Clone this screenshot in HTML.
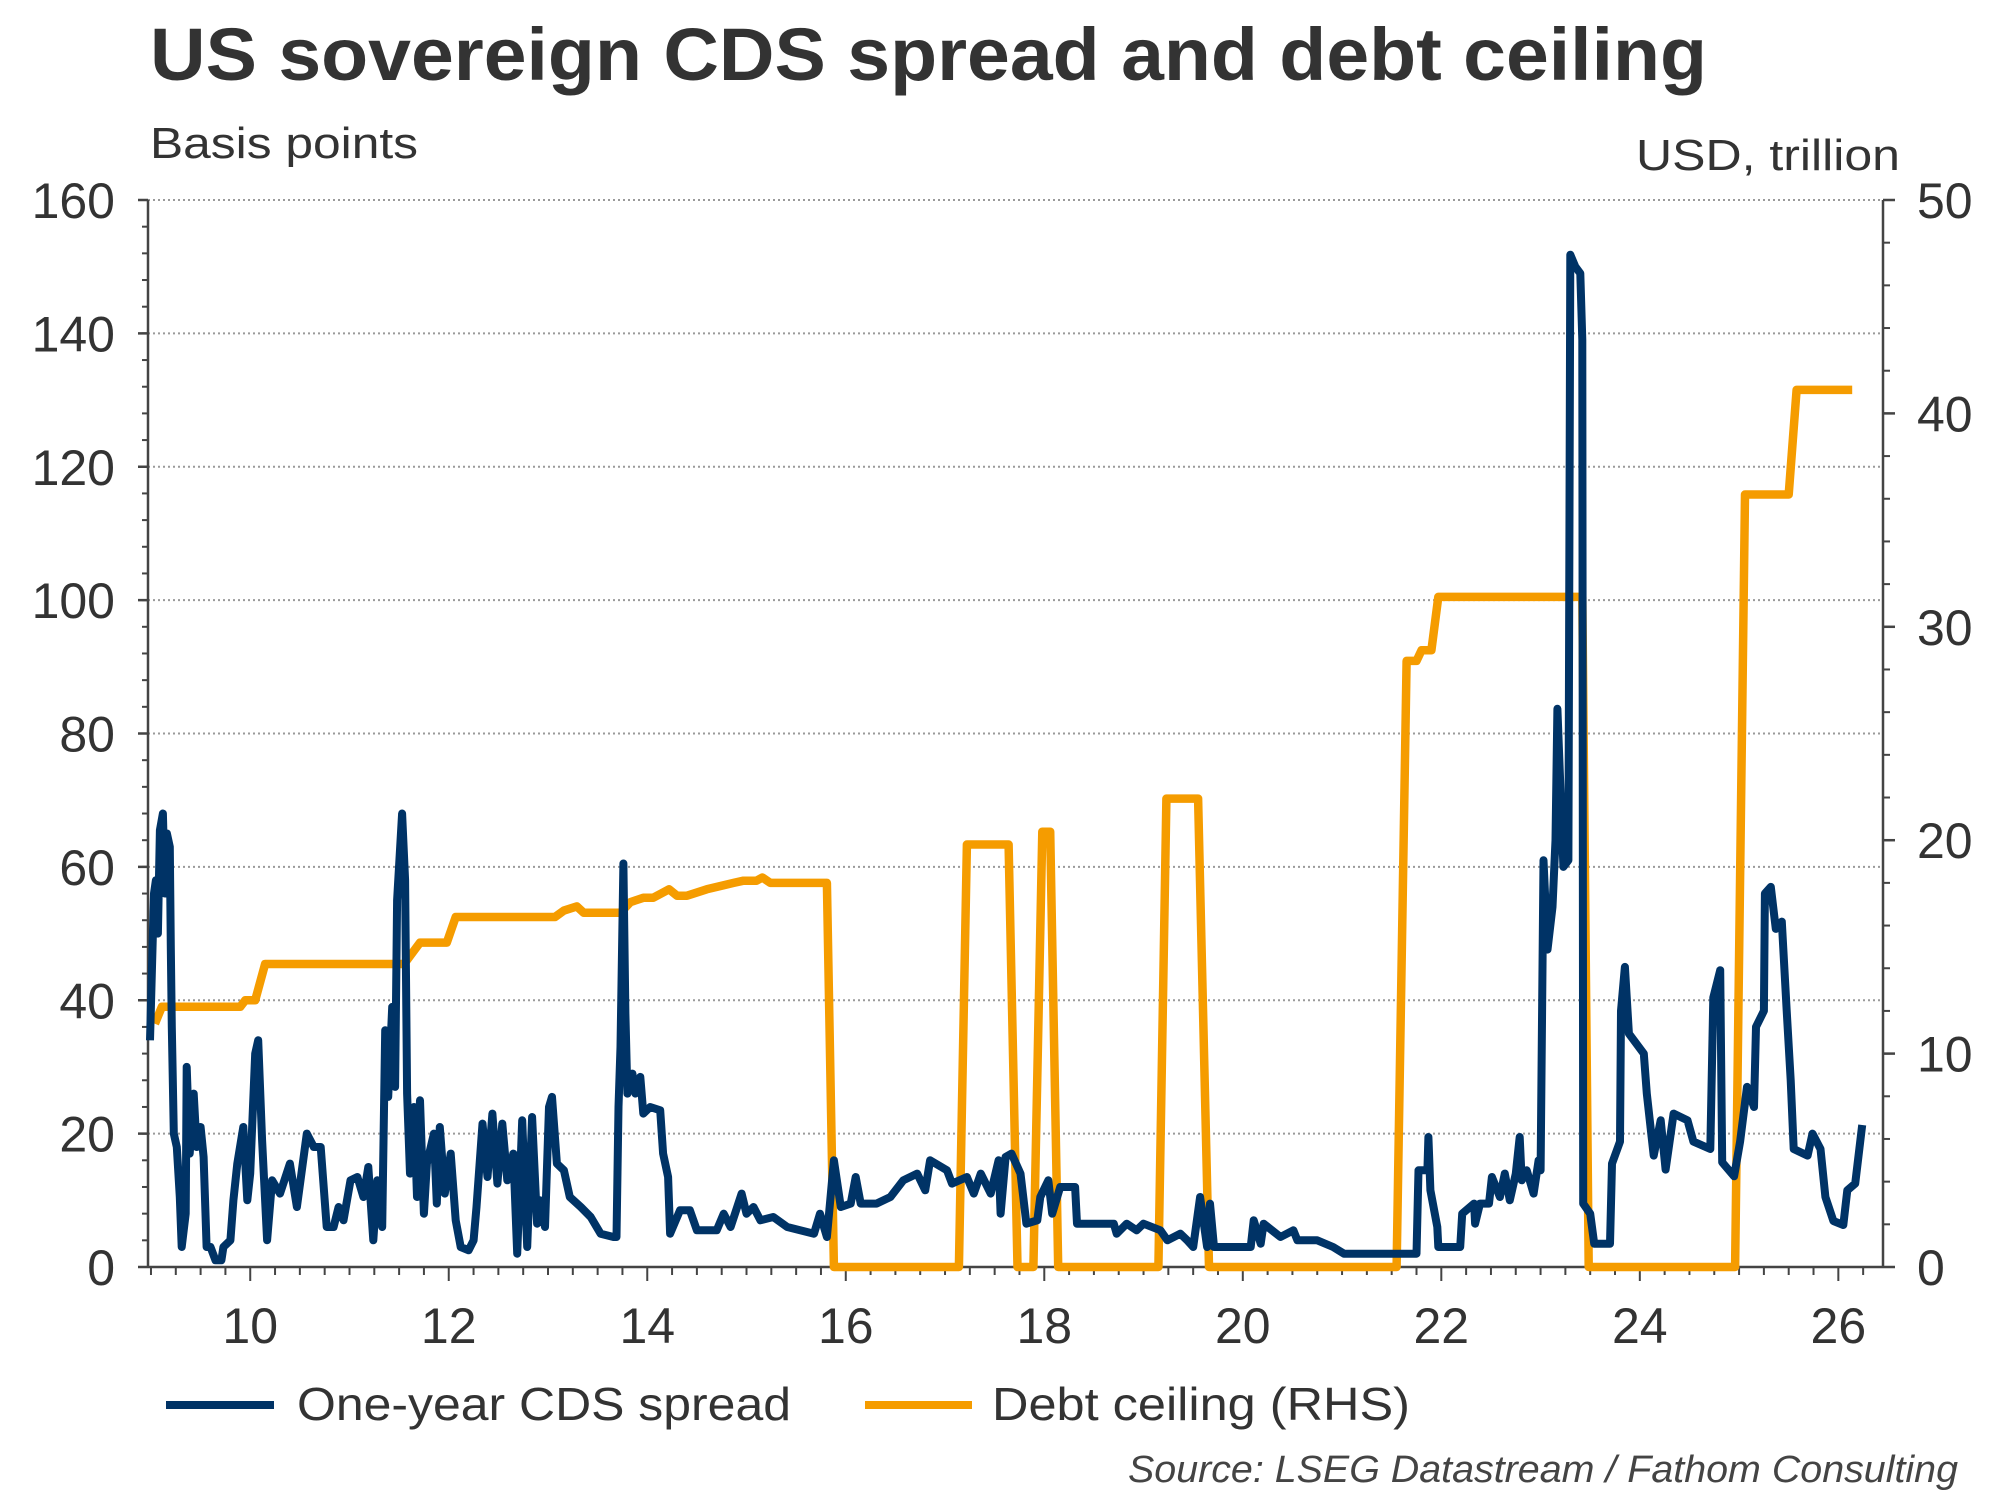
<!DOCTYPE html>
<html><head><meta charset="utf-8"><style>
html,body{margin:0;padding:0;background:#fff;}
svg{display:block;font-family:"Liberation Sans",Arial,sans-serif;}
</style></head><body>
<svg id="chart" width="2000" height="1500" viewBox="0 0 2000 1500" xmlns="http://www.w3.org/2000/svg">
<text x="150" y="80" font-size="74" font-weight="bold" fill="#333" textLength="1557" lengthAdjust="spacingAndGlyphs">US sovereign CDS spread and debt ceiling</text>
<text x="150" y="158" font-size="44" fill="#333" textLength="268" lengthAdjust="spacingAndGlyphs">Basis points</text>
<text x="1900" y="170" font-size="44" fill="#333" text-anchor="end" textLength="264" lengthAdjust="spacingAndGlyphs">USD, trillion</text>
<g id="grid"></g>
<g id="axes"></g>
<g id="series"></g>
<g>
  <g>
    <line x1="166" y1="1405" x2="274" y2="1405" stroke="#003366" stroke-width="8"/>
    <text x="297" y="1420" font-size="46" fill="#333" textLength="494" lengthAdjust="spacingAndGlyphs">One-year CDS spread</text>
  </g>
  <g>
    <line x1="865" y1="1405" x2="972" y2="1405" stroke="#F59C00" stroke-width="8"/>
    <text x="992" y="1420" font-size="46" fill="#333" textLength="418" lengthAdjust="spacingAndGlyphs">Debt ceiling (RHS)</text>
  </g>
</g>
<text x="1958" y="1482" font-size="38" font-style="italic" fill="#444" text-anchor="end" textLength="830" lengthAdjust="spacingAndGlyphs">Source: LSEG Datastream / Fathom Consulting</text>
</svg>
<script>
const cdsYears = [8.99,9.03,9.05,9.07,9.09,9.12,9.14,9.16,9.19,9.2,9.21,9.23,9.26,9.29,9.31,9.35,9.36,9.39,9.43,9.46,9.5,9.53,9.56,9.6,9.65,9.71,9.73,9.8,9.83,9.87,9.93,9.97,10.0,10.05,10.08,10.12,10.17,10.22,10.3,10.4,10.47,10.57,10.64,10.71,10.77,10.84,10.89,10.94,11.01,11.08,11.14,11.19,11.24,11.28,11.33,11.36,11.39,11.43,11.46,11.48,11.53,11.56,11.58,11.61,11.65,11.68,11.71,11.75,11.78,11.85,11.88,11.91,11.96,12.02,12.07,12.12,12.2,12.25,12.28,12.34,12.39,12.44,12.49,12.54,12.59,12.65,12.69,12.74,12.79,12.84,12.89,12.92,12.97,13.01,13.04,13.09,13.16,13.22,13.33,13.43,13.53,13.66,13.69,13.71,13.73,13.76,13.78,13.8,13.85,13.88,13.93,13.96,14.03,14.13,14.16,14.21,14.23,14.33,14.43,14.5,14.7,14.77,14.84,14.95,15.0,15.07,15.14,15.27,15.41,15.54,15.68,15.74,15.81,15.88,15.95,16.05,16.1,16.15,16.31,16.45,16.58,16.72,16.8,16.85,17.02,17.07,17.22,17.29,17.36,17.46,17.54,17.56,17.61,17.67,17.76,17.82,17.93,17.96,18.04,18.08,18.16,18.31,18.33,18.7,18.73,18.83,18.93,19.0,19.17,19.24,19.37,19.44,19.5,19.57,19.64,19.67,19.71,20.08,20.11,20.18,20.21,20.38,20.51,20.55,20.75,20.91,21.02,21.75,21.77,21.86,21.87,21.89,21.96,21.97,22.19,22.21,22.33,22.34,22.39,22.48,22.51,22.59,22.64,22.69,22.75,22.79,22.81,22.86,22.93,22.98,23.0,23.03,23.07,23.12,23.15,23.17,23.23,23.28,23.3,23.35,23.4,23.42,23.43,23.5,23.54,23.7,23.72,23.8,23.81,23.85,23.89,24.04,24.07,24.14,24.21,24.26,24.34,24.48,24.54,24.71,24.74,24.81,24.83,24.95,25.01,25.08,25.15,25.17,25.25,25.26,25.32,25.37,25.43,25.48,25.52,25.55,25.69,25.74,25.82,25.87,25.95,26.05,26.09,26.17,26.24];
const cdsValues = [34,56,58,50,65.5,68,56,65,63,48,36,20,18,10.5,3,8,30,17,26,18,21,16.5,3,3,1,1,3,4,10,15.5,21,10,14,32,34,19,4,13,11,15.5,9,20,18,18,6,6,9,7,13,13.5,10.5,15,4,13,6,35.5,25.5,39,27,55,68,58,26,14,24,10.5,25,8,15.5,20,9.5,21,11,17,7,3,2.5,4,9,21.5,13.5,23,12.5,21.5,13,17,2,22,3,22.5,6.5,10,6,24,25.5,15.5,14.5,10.5,9,7.5,5,4.5,4.5,24,33,60.5,38,26,29,26,28.5,23,24,23.5,17,13.5,5,8.5,8.5,5.5,5.5,8,6,11,8,9,7,7.5,6,5.5,5,8,4.5,16,9,9.5,13.5,9.5,9.5,10.5,13,14,11.5,16,14.5,12.5,13.5,11,14,11,16,8,16.5,17,14,6.5,7,10.5,13,8,12,12,6.5,6.5,5,6.5,5.5,6.5,5.5,4,5,4,3,10.5,3,9.5,3,3,7,3.5,6.5,4.5,5.5,4,4,3,2,2,14.5,14.5,19.5,11.5,6,3,3,8,9.5,6.5,9.5,9.5,13.5,10.5,14,10,14,19.5,13,14.5,11,16,14.5,61,47.6,54,64,83.7,60,61,151.8,150,149,139,9.5,8,3.5,3.5,15.5,18.8,38.4,45,35,32,26,16.7,22,14.6,23,22,18.8,17.7,40.4,44.5,15.7,13.6,18.8,27,24,36,38.4,56,57,50.7,51.8,38.4,28,17.7,16.7,20,17.7,10.5,6.9,6.3,11.5,12.5,21.3];
const debtYears = [9.04,9.11,9.9,9.95,10.05,10.15,11.55,11.71,11.98,12.07,13.07,13.16,13.29,13.36,13.73,13.83,13.96,14.06,14.22,14.3,14.4,14.6,14.87,14.97,15.1,15.16,15.24,15.81,15.88,17.14,17.22,17.64,17.73,17.89,17.98,18.06,18.14,19.15,19.23,19.55,19.66,21.55,21.65,21.75,21.8,21.9,21.97,23.42,23.485,24.96,25.06,25.5,25.58,26.14];
const debtValues = [11.4,12.2,12.2,12.5,12.5,14.2,14.2,15.2,15.2,16.4,16.4,16.7,16.9,16.6,16.6,17.1,17.3,17.3,17.7,17.4,17.4,17.7,18.0,18.1,18.1,18.25,18.0,18.0,0,0,19.8,19.8,0,0,20.4,20.4,0,0,21.95,21.95,0,0,28.4,28.4,28.9,28.9,31.4,31.4,0,0,36.2,36.2,41.1,41.1];
const leftTicks = [0,20,40,60,80,100,120,140,160];
const rightTicks = [0,10,20,30,40,50];
const xTickLabels = [10,12,14,16,18,20,22,24,26];

const NS = "http://www.w3.org/2000/svg";
const X0 = 148, X1 = 1883, Y0 = 1267, Y1 = 200;
const xMin = 8.97, xMax = 26.45;
function xs(v){ return X0 + (v - xMin) / (xMax - xMin) * (X1 - X0); }
function yl(v){ return Y0 - v / 160 * (Y0 - Y1); }
function yr(v){ return Y0 - v / 50 * (Y0 - Y1); }
function mk(tag, attrs, parent){ const e = document.createElementNS(NS, tag); for (const k in attrs) e.setAttribute(k, attrs[k]); parent.appendChild(e); return e; }

const grid = document.getElementById('grid');
const axes = document.getElementById('axes');
const series = document.getElementById('series');

leftTicks.forEach(t => {
  if (t > 0) {
    const g = mk('line', {x1: X0, x2: X1, y1: yl(t), y2: yl(t), stroke: '#9a9a9a', 'stroke-width': 2, 'stroke-dasharray': '2 3'}, grid);
    
    
  }
  const tk = mk('line', {x1: X0 - 10, x2: X0, y1: yl(t), y2: yl(t), stroke: '#444', 'stroke-width': 2.5}, axes);
  
  
  const lb = mk('text', {x: 115, y: yl(t) + 18, 'font-size': 50, fill: '#333', 'text-anchor': 'end'}, axes);
  lb.textContent = t;
  
  
});
for (let v = 0; v <= 160; v += 4) {
  const m = mk('line', {x1: X0 - 6, x2: X0, y1: yl(v), y2: yl(v), stroke: '#444', 'stroke-width': 2}, axes);
  
  
}
rightTicks.forEach(t => {
  const tk = mk('line', {x1: X1, x2: X1 + 12, y1: yr(t), y2: yr(t), stroke: '#444', 'stroke-width': 2.5}, axes);
  
  
  const lb = mk('text', {x: 1917, y: yr(t) + 18, 'font-size': 50, fill: '#333'}, axes);
  lb.textContent = t;
  
  
});
for (let v = 0; v <= 50; v += 2) {
  const m = mk('line', {x1: X1, x2: X1 + 7, y1: yr(v), y2: yr(v), stroke: '#444', 'stroke-width': 2}, axes);
  
  
}
for (let q = 9; q <= 26.25; q += 0.25) {
  const major = Math.abs(q - Math.round(q)) < 1e-6 && Math.round(q) % 2 === 0;
  const m = mk('line', {x1: xs(q), x2: xs(q), y1: Y0, y2: Y0 + (major ? 14 : 8), stroke: '#444', 'stroke-width': 2}, axes);
  
  
}
xTickLabels.forEach(t => {
  const lb = mk('text', {x: xs(t), y: 1343, 'font-size': 50, fill: '#333', 'text-anchor': 'middle'}, axes);
  lb.textContent = t;
  
  
});
const la = mk('line', {x1: X0, x2: X0, y1: Y1, y2: Y0, stroke: '#444', 'stroke-width': 2.5}, axes);


const ra = mk('line', {x1: X1, x2: X1, y1: Y1, y2: Y0, stroke: '#444', 'stroke-width': 2.5}, axes);


const xa = mk('line', {x1: X0, x2: X1, y1: Y0, y2: Y0, stroke: '#444', 'stroke-width': 2.5}, axes);



const dp = debtYears.map((y, i) => (i ? 'L' : 'M') + xs(y).toFixed(1) + ' ' + yr(debtValues[i]).toFixed(1)).join(' ');
const debt = mk('path', {d: dp, fill: 'none', stroke: '#F59C00', 'stroke-width': 8.5, 'stroke-linejoin': 'round'}, series);


const cp = cdsYears.map((y, i) => (i ? 'L' : 'M') + xs(y).toFixed(1) + ' ' + yl(cdsValues[i]).toFixed(1)).join(' ');
const cds = mk('path', {d: cp, fill: 'none', stroke: '#003366', 'stroke-width': 8, 'stroke-linejoin': 'round'}, series);


</script>
</body></html>
